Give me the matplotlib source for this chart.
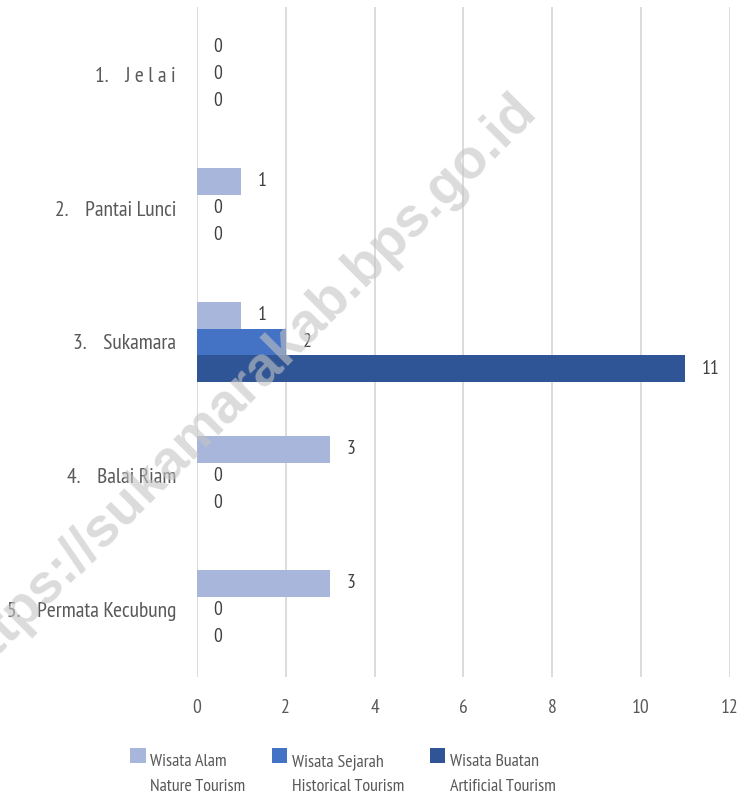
import matplotlib
matplotlib.use("Agg")
import matplotlib.pyplot as plt
import numpy as np

categories = ["1.    J e l a i", "2.    Pantai Lunci", "3.    Sukamara", "4.    Balai Riam", "5.    Permata Kecubung"]
series_names = ["Wisata Alam\nNature Tourism", "Wisata Sejarah\nHistorical Tourism", "Wisata Buatan\nArtificial Tourism"]
alam = [0, 1, 1, 3, 3]
sejarah = [0, 0, 2, 0, 0]
buatan = [0, 0, 11, 0, 0]
xticks = [0, 2, 4, 6, 8, 10, 12]

colors = ["#a9b6db", "#4472c4", "#2f5597"]
FONT = ["PT Sans Narrow", "Roboto Condensed", "Fira Sans Condensed", "DejaVu Sans"]
plt.rcParams["font.family"] = FONT
FS = 14

fig = plt.figure(figsize=(7.41, 7.97), dpi=100)
ax = fig.add_axes([0.2658, 0.1506, 0.7190, 0.8406])

y = np.arange(len(categories))
h = 0.2
for i, (vals, col, name) in enumerate(zip([alam, sejarah, buatan], colors, series_names)):
    bars = ax.barh(y + (i - 1) * h, vals, height=h, color=col, label=name, zorder=2)
    for b, v in zip(bars, vals):
        ax.annotate(str(v), (b.get_width(), b.get_y() + b.get_height() / 2),
                    xytext=(12, 0), textcoords="offset points", ha="left", va="center",
                    fontsize=FS, color="#404040", zorder=3)

ax.set_xlim(0, 12)
ax.set_ylim(len(categories) - 0.5, -0.5)
ax.set_xticks(xticks)
ax.set_xticklabels([str(t) for t in xticks])
ax.set_yticks(y)
ax.set_yticklabels(categories)
ax.tick_params(axis="x", length=0, pad=16, labelsize=FS, labelcolor="#595959")
ax.tick_params(axis="y", length=0, pad=15, labelsize=15.5, labelcolor="#595959")
ax.grid(axis="x", color="#d9d9d9", linewidth=1.3, zorder=0)
ax.set_axisbelow(True)
for s in ax.spines.values():
    s.set_visible(False)

leg = fig.legend(loc="center", bbox_to_anchor=(0.463, 0.028), ncol=3, frameon=False,
                 fontsize=13, handlelength=0.85, handleheight=0.85, handletextpad=0.25,
                 columnspacing=1.45, labelspacing=0.2)
for t in leg.get_texts():
    t.set_color("#595959")
    t.set_linespacing(1.8)
for p in leg.legend_handles:
    p.set_y(p.get_y() + 13.5)

fig.text(0.33, 0.515, "https://sukamarakab.bps.go.id", rotation=45, ha="center", va="center",
         fontsize=40, fontweight="bold", color="#c4c4c4", alpha=0.6,
         family=["Liberation Sans", "DejaVu Sans"], zorder=10)

fig.savefig("out.png", dpi=100)
